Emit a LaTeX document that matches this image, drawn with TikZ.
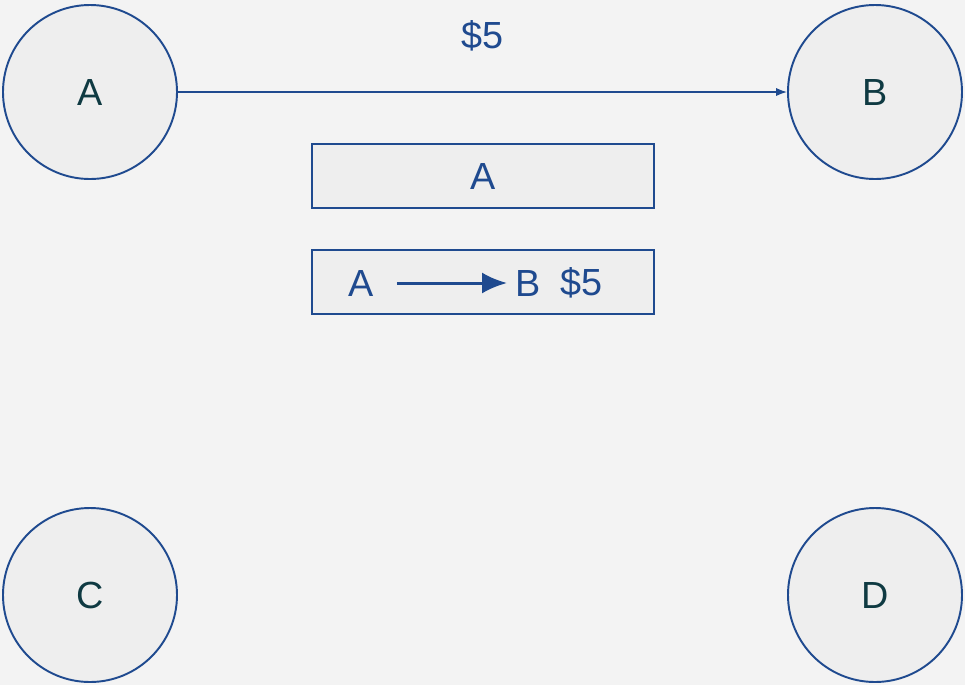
\documentclass[tikz,border=0pt]{standalone}
\usepackage{fontspec}
\setmainfont{Liberation Sans}
\usetikzlibrary{positioning,arrows.meta}

\definecolor{bgcol}{HTML}{F3F3F3}
\definecolor{nodefill}{HTML}{EEEEEE}
\definecolor{edgeblue}{HTML}{1F4A8F}
\definecolor{nodetext}{HTML}{0F3A42}

\begin{document}
\begin{tikzpicture}[
    account/.style={draw=edgeblue, line width=1.1pt, fill=nodefill, circle, inner sep=0pt, minimum size=3.48cm, text=nodetext, font=\fontsize{21.5}{25}\selectfont},
    panel/.style={draw=edgeblue, line width=1.1pt, fill=nodefill, rectangle, inner sep=0pt, minimum width=6.84cm, minimum height=1.28cm, text=edgeblue, font=\fontsize{21.5}{25}\selectfont},
    lbl/.style={text=edgeblue, font=\fontsize{21.5}{25}\selectfont, inner sep=0pt},
    >={Latex[length=2.2mm]}
  ]
    \useasboundingbox[fill=bgcol] (0,0) rectangle (19.3,-13.7);

    \node[account] (a) at (1.8,-1.84) {A};
    \node[account] (b) at (17.5,-1.84) {B};
    \node[account] (c) at (1.8,-11.9) {C};
    \node[account] (d) at (17.5,-11.9) {D};

    \node[panel] (current) at (9.66,-3.52) {A};
    \node[panel] (pending) at (9.66,-5.64) {};

    % contents of the lower panel
    \node[lbl] (pa) at (7.22,-5.66) {A};
    \node[lbl] (pb) at (10.56,-5.66) {B};
    \node[lbl] (pamt) at (11.64,-5.66) {\$5};

    \draw[->, draw=edgeblue, line width=0.8pt] (a) -- (b) node[lbl, midway, yshift=1.12cm] {\$5};
    \draw[-{Latex[length=5mm, width=4.2mm]}, draw=edgeblue, fill=edgeblue, line width=1.7pt, shorten <=0.46cm, shorten >=0.16cm] (pa.east) -- (pb.west);
  \end{tikzpicture}
\end{document}
